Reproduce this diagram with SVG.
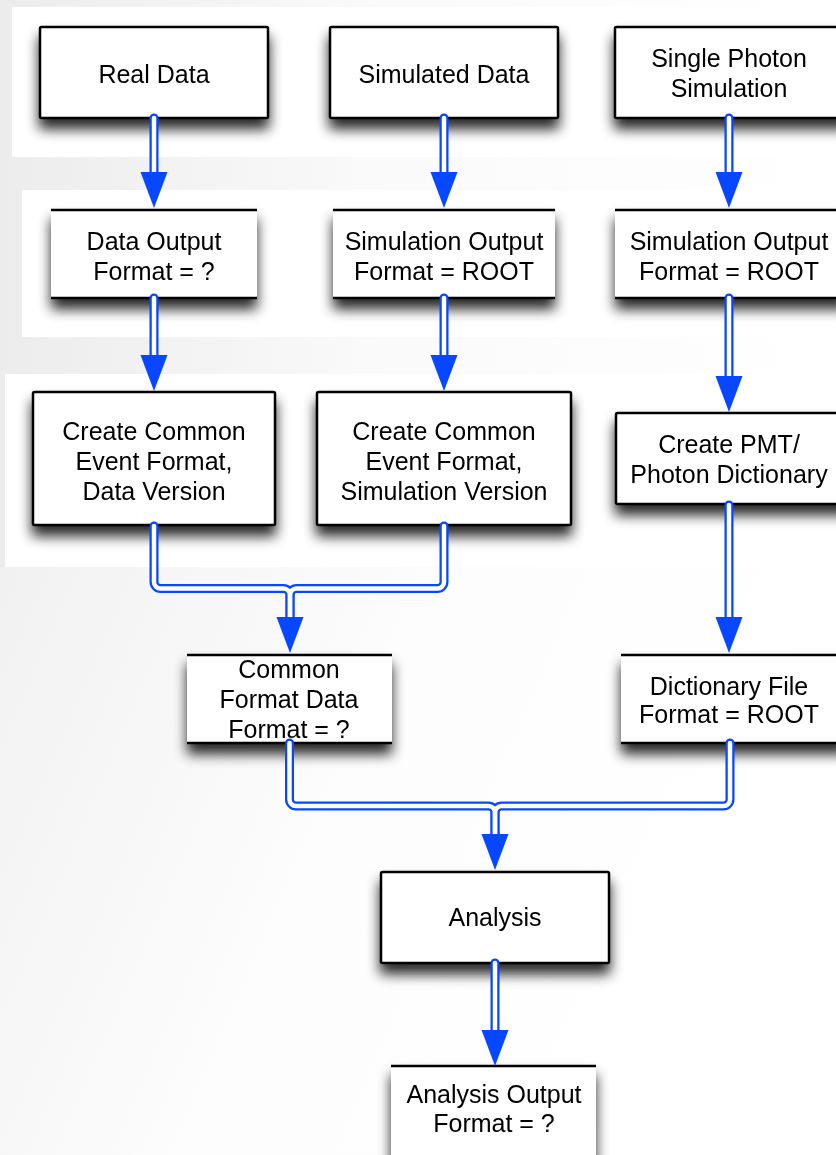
<svg xmlns="http://www.w3.org/2000/svg" width="836" height="1155" viewBox="0 0 836 1155">
  <defs>
    <linearGradient id="bgGrad" x1="0" y1="0" x2="1" y2="0">
      <stop offset="0" stop-color="#ececec"/>
      <stop offset="0.45" stop-color="#fafafa"/>
      <stop offset="1" stop-color="#ffffff"/>
    </linearGradient>
    <linearGradient id="lowGrad" x1="0" y1="0" x2="1" y2="0.3">
      <stop offset="0" stop-color="#f1f1f1"/>
      <stop offset="0.5" stop-color="#fdfdfd"/>
      <stop offset="1" stop-color="#ffffff"/>
    </linearGradient>
    <filter id="shadow" x="-20%" y="-20%" width="140%" height="170%">
      <feGaussianBlur in="SourceAlpha" stdDeviation="6.5"/>
      <feOffset dx="0" dy="10" result="blur"/>
      <feComponentTransfer>
        <feFuncA type="linear" slope="0.85"/>
      </feComponentTransfer>
      <feMerge>
        <feMergeNode/>
        <feMergeNode in="SourceGraphic"/>
      </feMerge>
    </filter>
  </defs>
  <style>
    .proc { fill: #ffffff; stroke: #000000; stroke-width: 2.5; }
    .data { fill: #ffffff; }
    .edge { stroke: #000000; stroke-width: 2.5; }
    .lbl { font-family: "Liberation Sans", Arial, Helvetica, sans-serif; font-size: 25px; fill: #000000; text-anchor: middle; }
    .pipe-out { fill: none; stroke: #0747ff; stroke-width: 9; stroke-linecap: round; stroke-linejoin: round; }
    .pipe-in { fill: none; stroke: #ffffff; stroke-width: 4.5; stroke-linecap: round; stroke-linejoin: round; }
    .head { fill: #0747ff; }
  </style>

  <!-- backdrop -->
  <rect x="0" y="0" width="836" height="1155" fill="url(#bgGrad)"/>
  <rect x="12" y="7" width="824" height="150" fill="#ffffff"/>
  <rect x="22" y="190" width="814" height="147" fill="#ffffff"/>
  <rect x="5" y="374" width="831" height="193" fill="#ffffff"/>
  <rect x="0" y="567" width="836" height="588" fill="url(#lowGrad)"/>

  <!-- nodes -->
  <g id="real-data" filter="url(#shadow)">
    <rect class="proc" x="40" y="27" width="228" height="91" rx="1.5"/>
    <text class="lbl" x="154" y="83">Real Data</text>
  </g>
  <g id="simulated-data" filter="url(#shadow)">
    <rect class="proc" x="330" y="27" width="228" height="91" rx="1.5"/>
    <text class="lbl" x="444" y="83">Simulated Data</text>
  </g>
  <g id="single-photon" filter="url(#shadow)">
    <rect class="proc" x="615" y="27" width="232" height="91" rx="1.5"/>
    <text class="lbl" x="729" y="67">Single Photon</text>
    <text class="lbl" x="729" y="97">Simulation</text>
  </g>

  <g id="data-output" filter="url(#shadow)">
    <rect class="data" x="51" y="210" width="206" height="88"/>
    <line class="edge" x1="51" y1="210" x2="257" y2="210"/>
    <line class="edge" x1="51" y1="298" x2="257" y2="298"/>
    <text class="lbl" x="154" y="250">Data Output</text>
    <text class="lbl" x="154" y="280">Format = ?</text>
  </g>
  <g id="sim-output" filter="url(#shadow)">
    <rect class="data" x="333" y="210" width="222" height="88"/>
    <line class="edge" x1="333" y1="210" x2="555" y2="210"/>
    <line class="edge" x1="333" y1="298" x2="555" y2="298"/>
    <text class="lbl" x="444" y="250">Simulation Output</text>
    <text class="lbl" x="444" y="280">Format = ROOT</text>
  </g>
  <g id="photon-sim-output" filter="url(#shadow)">
    <rect class="data" x="615" y="210" width="232" height="88"/>
    <line class="edge" x1="615" y1="210" x2="847" y2="210"/>
    <line class="edge" x1="615" y1="298" x2="847" y2="298"/>
    <text class="lbl" x="729" y="250">Simulation Output</text>
    <text class="lbl" x="729" y="280">Format = ROOT</text>
  </g>

  <g id="cef-data" filter="url(#shadow)">
    <rect class="proc" x="33" y="392" width="242" height="133" rx="1.5"/>
    <text class="lbl" x="154" y="440">Create Common</text>
    <text class="lbl" x="154" y="470">Event Format,</text>
    <text class="lbl" x="154" y="500">Data Version</text>
  </g>
  <g id="cef-sim" filter="url(#shadow)">
    <rect class="proc" x="317" y="392" width="254" height="133" rx="1.5"/>
    <text class="lbl" x="444" y="440">Create Common</text>
    <text class="lbl" x="444" y="470">Event Format,</text>
    <text class="lbl" x="444" y="500">Simulation Version</text>
  </g>
  <g id="pmt-dictionary" filter="url(#shadow)">
    <rect class="proc" x="616" y="413" width="232" height="91" rx="1.5"/>
    <text class="lbl" x="729" y="453">Create PMT/</text>
    <text class="lbl" x="729" y="483">Photon Dictionary</text>
  </g>

  <g id="common-format" filter="url(#shadow)">
    <rect class="data" x="187" y="655" width="205" height="88"/>
    <line class="edge" x1="187" y1="655" x2="392" y2="655"/>
    <line class="edge" x1="187" y1="743" x2="392" y2="743"/>
    <text class="lbl" x="289" y="678">Common</text>
    <text class="lbl" x="289" y="708">Format Data</text>
    <text class="lbl" x="289" y="738">Format = ?</text>
  </g>
  <g id="dictionary-file" filter="url(#shadow)">
    <rect class="data" x="621" y="655" width="226" height="88"/>
    <line class="edge" x1="621" y1="655" x2="847" y2="655"/>
    <line class="edge" x1="621" y1="743" x2="847" y2="743"/>
    <text class="lbl" x="729" y="695">Dictionary File</text>
    <text class="lbl" x="729" y="723">Format = ROOT</text>
  </g>

  <g id="analysis" filter="url(#shadow)">
    <rect class="proc" x="381" y="872" width="228" height="91" rx="1.5"/>
    <text class="lbl" x="495" y="926">Analysis</text>
  </g>
  <g id="analysis-output" filter="url(#shadow)">
    <rect class="data" x="391" y="1066" width="205" height="95"/>
    <line class="edge" x1="391" y1="1066" x2="596" y2="1066"/>
    <text class="lbl" x="494" y="1103">Analysis Output</text>
    <text class="lbl" x="494" y="1132">Format = ?</text>
  </g>

  <!-- connectors: hollow blue pipes ending in solid heads -->
  <g id="connectors">
    <g class="pipe-out">
      <path d="M154,118 V174"/>
      <path d="M444,118 V174"/>
      <path d="M729,118 V174"/>
      <path d="M154,298 V357"/>
      <path d="M444,298 V357"/>
      <path d="M729,298 V378"/>
      <path d="M729,505 V619"/>
      <path d="M154,526 V582 A6.5,6.5 0 0 0 160.5,588.5 H283.5 A6.5,6.5 0 0 1 290,595 V619"/>
      <path d="M444,526 V582 A6.5,6.5 0 0 1 437.5,588.5 H296.5 A6.5,6.5 0 0 0 290,595 V619"/>
      <path d="M289.5,743 V799.5 A6.5,6.5 0 0 0 296,806 H488.5 A6.5,6.5 0 0 1 495,812.5 V836"/>
      <path d="M730,743 V799.5 A6.5,6.5 0 0 1 723.5,806 H501.5 A6.5,6.5 0 0 0 495,812.5 V836"/>
      <path d="M495,963 V1032"/>
    </g>
    <g class="pipe-in">
      <path d="M154,118 V174"/>
      <path d="M444,118 V174"/>
      <path d="M729,118 V174"/>
      <path d="M154,298 V357"/>
      <path d="M444,298 V357"/>
      <path d="M729,298 V378"/>
      <path d="M729,505 V619"/>
      <path d="M154,526 V582 A6.5,6.5 0 0 0 160.5,588.5 H283.5 A6.5,6.5 0 0 1 290,595 V619"/>
      <path d="M444,526 V582 A6.5,6.5 0 0 1 437.5,588.5 H296.5 A6.5,6.5 0 0 0 290,595 V619"/>
      <path d="M289.5,743 V799.5 A6.5,6.5 0 0 0 296,806 H488.5 A6.5,6.5 0 0 1 495,812.5 V836"/>
      <path d="M730,743 V799.5 A6.5,6.5 0 0 1 723.5,806 H501.5 A6.5,6.5 0 0 0 495,812.5 V836"/>
      <path d="M495,963 V1032"/>
    </g>
    <polygon class="head" points="140.5,172 167.5,172 154,208"/>
    <polygon class="head" points="430.5,172 457.5,172 444,208"/>
    <polygon class="head" points="715.5,172 742.5,172 729,208"/>
    <polygon class="head" points="140.5,355 167.5,355 154,391"/>
    <polygon class="head" points="430.5,355 457.5,355 444,391"/>
    <polygon class="head" points="715.5,376 742.5,376 729,412"/>
    <polygon class="head" points="715.5,617 742.5,617 729,653"/>
    <polygon class="head" points="276.5,617 303.5,617 290,653"/>
    <polygon class="head" points="481.5,834 508.5,834 495,870"/>
    <polygon class="head" points="481.5,1030 508.5,1030 495,1066"/>
  </g>
</svg>
